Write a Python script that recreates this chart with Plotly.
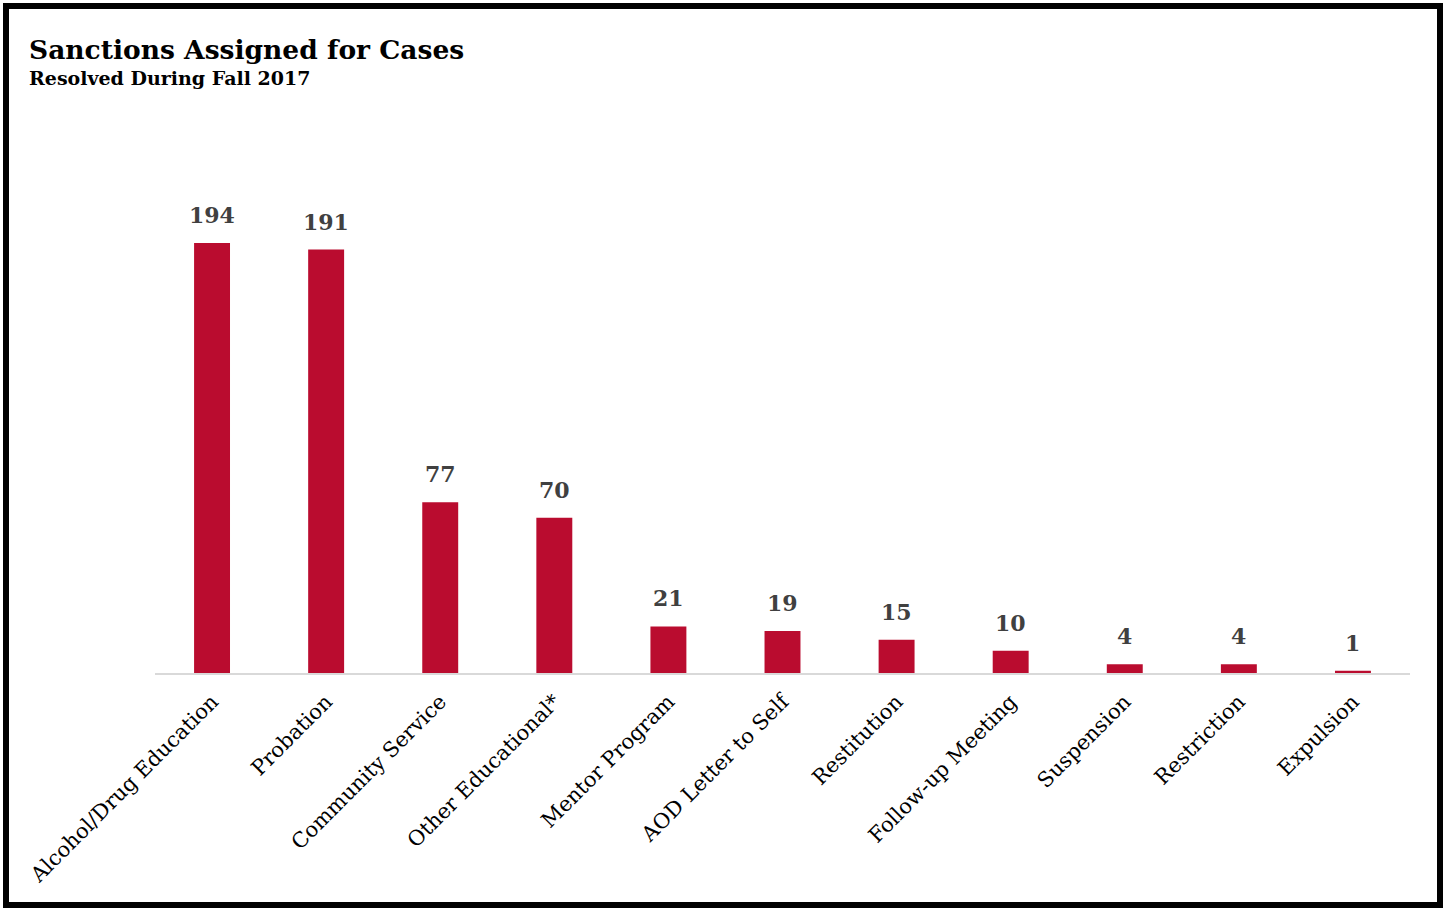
import plotly.graph_objects as go

categories = ["Alcohol/Drug Education", "Probation", "Community Service", "Other Educational*",
              "Mentor Program", "AOD Letter to Self", "Restitution", "Follow-up Meeting",
              "Suspension", "Restriction", "Expulsion"]
values = [194, 191, 77, 70, 21, 19, 15, 10, 4, 4, 1]

W, H = 1447, 909
L, R, T, B = 155, 37, 100, 236
pw, ph = W - L - R, H - T - B

def px(x):
    return (x - L) / pw

def py(y):
    return (H - B - y) / ph

fig = go.Figure(go.Bar(
    x=categories, y=values,
    marker=dict(color="#BA0C2F", line=dict(width=0)),
    hoverinfo="x+y",
))

value_labels = [
    dict(x=c, y=v, xref="x", yref="y", text=f"<b>{v}</b>", showarrow=False,
         xanchor="center", yanchor="bottom", yshift=13,
         font=dict(family="DejaVu Serif", size=22, color="#404040"))
    for c, v in zip(categories, values)
]

fig.update_layout(
    width=W, height=H,
    margin=dict(l=L, r=R, t=T, b=B),
    paper_bgcolor="white", plot_bgcolor="white",
    bargap=0.685,
    showlegend=False,
    xaxis=dict(tickangle=-45, tickfont=dict(family="DejaVu Serif", size=21, color="#000000"),
               ticklabelstandoff=6,
               showline=True, linecolor="#d9d9d9", linewidth=2, ticks="", showgrid=False),
    yaxis=dict(range=[0, 258.5], visible=False, showgrid=False),
    shapes=[dict(type="rect", xref="paper", yref="paper",
                 x0=px(6), x1=px(1440), y0=py(6), y1=py(905),
                 line=dict(color="black", width=6), fillcolor="rgba(0,0,0,0)", layer="above")],
    annotations=value_labels + [
        dict(text="<b>Sanctions Assigned for Cases</b>", xref="paper", yref="paper",
             x=px(27), y=py(50), xanchor="left", yanchor="middle", showarrow=False,
             font=dict(family="DejaVu Serif", size=26.5, color="black")),
        dict(text="<b>Resolved During Fall 2017</b>", xref="paper", yref="paper",
             x=px(27), y=py(78), xanchor="left", yanchor="middle", showarrow=False,
             font=dict(family="DejaVu Serif", size=19, color="black")),
    ],
)
fig.write_html("out.html", config={"displayModeBar": False},
               post_script="document.body.style.margin='0';document.body.style.padding='0';document.body.style.overflow='hidden';")
